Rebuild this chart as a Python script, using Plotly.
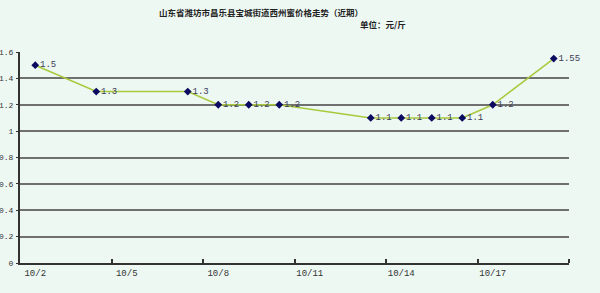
import plotly.graph_objects as go
from datetime import datetime, timedelta

# data
dates = ["2014-10-02", "2014-10-04", "2014-10-07", "2014-10-08", "2014-10-09", "2014-10-10",
         "2014-10-13", "2014-10-14", "2014-10-15", "2014-10-16", "2014-10-17", "2014-10-19"]
prices = [1.5, 1.3, 1.3, 1.2, 1.2, 1.2, 1.1, 1.1, 1.1, 1.1, 1.2, 1.55]
point_labels = ["1.5", "1.3", "1.3", "1.2", "1.2", "1.2", "1.1", "1.1", "1.1", "1.1", "1.2", "1.55"]
tick_dates = ["2014-10-02", "2014-10-05", "2014-10-08", "2014-10-11", "2014-10-14", "2014-10-17"]
tick_labels = ["10/2", "10/5", "10/8", "10/11", "10/14", "10/17"]
y_ticks = [0, 0.2, 0.4, 0.6, 0.8, 1.0, 1.2, 1.4, 1.6]
y_tick_labels = ["0", "0.2", "0.4", "0.6", "0.8", "1", "1.2", "1.4", "1.6"]
title_text = "山东省潍坊市昌乐县宝城街道西州蜜价格走势（近期）"
unit_text = "单位：元/斤"

bg = "#eef8f3"
mono = "Liberation Mono, DejaVu Sans Mono, monospace"
start = datetime(2014, 10, 2) - timedelta(hours=12)
end = datetime(2014, 10, 19) + timedelta(hours=12)
boundaries = [datetime(2014, 10, 2) + timedelta(days=3 * i) - timedelta(hours=12) for i in range(1, 7)]

fig = go.Figure()
fig.add_trace(go.Scatter(
    x=dates, y=prices, mode="lines+markers+text",
    text=point_labels, textposition="middle right",
    textfont=dict(family=mono, size=9, color="#3a3a55"),
    line=dict(color="#a8c93c", width=1.5),
    marker=dict(symbol="diamond", size=6, color="#0a0a60"),
    cliponaxis=False,
))

fig.update_layout(
    width=600, height=293,
    margin=dict(l=20, r=31, t=52, b=30),
    paper_bgcolor=bg, plot_bgcolor=bg,
    showlegend=False,
    xaxis=dict(
        type="date", range=[start, end], automargin=False,
        tickvals=tick_dates, ticktext=tick_labels, ticks="",
        tickfont=dict(family=mono, size=9, color="#333"),
        showgrid=False, showline=True, linecolor="#333", linewidth=2,
        zeroline=False,
        minor=dict(tickvals=boundaries, ticks="inside", ticklen=4, tickcolor="#333", tickwidth=1.5, showgrid=False),
    ),
    yaxis=dict(
        range=[0, 1.6], automargin=False,
        tickvals=y_ticks, ticktext=y_tick_labels,
        ticks="outside", ticklen=2, tickcolor="#333",
        tickfont=dict(family=mono, size=8, color="#333"),
        showgrid=True, gridcolor="#707070", gridwidth=1.5,
        showline=True, linecolor="#333", linewidth=2, zeroline=False,
        ticklabelstandoff=1,
    ),
)
pw, ph = 549, 211
fig.add_annotation(text="<b>" + title_text + "</b>", xref="paper", yref="paper",
                   x=(261 - 20) / pw, y=(263 - 12) / ph, xanchor="center", yanchor="middle",
                   showarrow=False, font=dict(family="Noto Sans CJK SC", size=8.5, color="#222"))
fig.add_annotation(text="<b>" + unit_text + "</b>", xref="paper", yref="paper",
                   x=(383 - 20) / pw, y=(263 - 24) / ph, xanchor="center", yanchor="middle",
                   showarrow=False, font=dict(family="Noto Sans CJK SC", size=8.5, color="#222"))

fig.write_html("out.html")
